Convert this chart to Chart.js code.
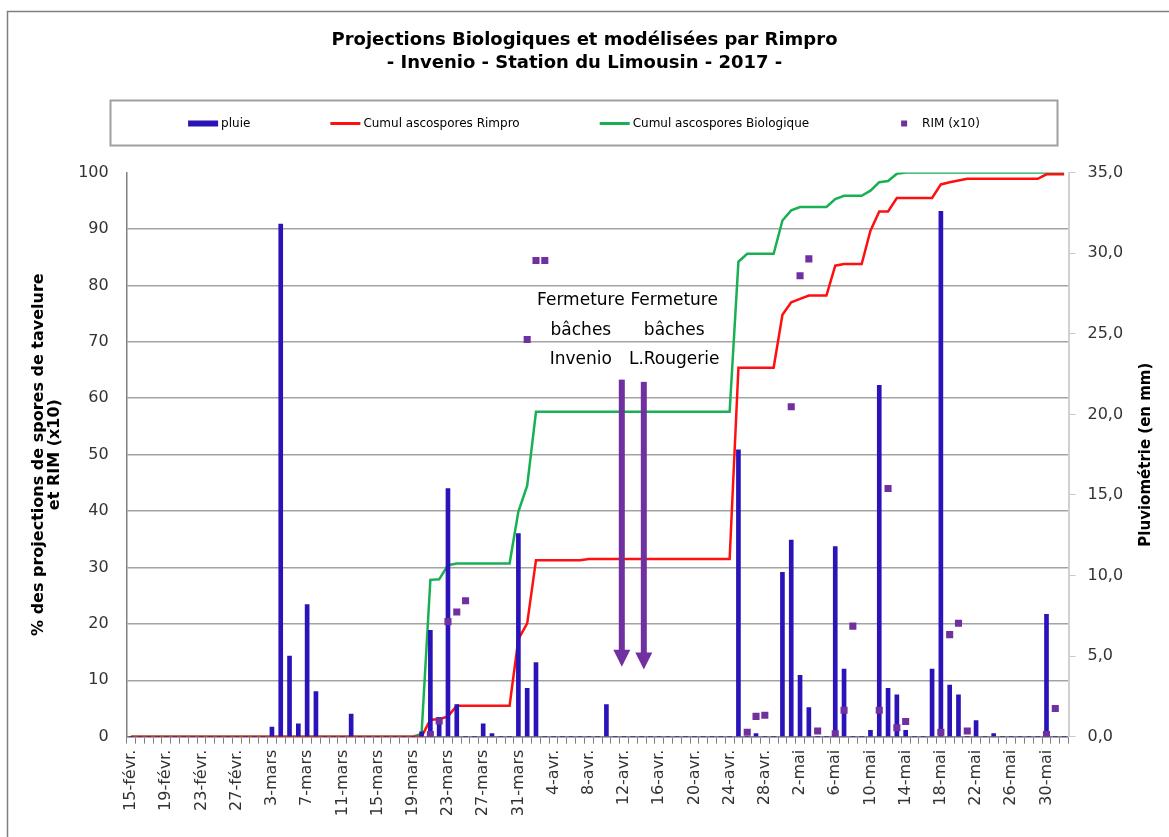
<!DOCTYPE html>
<html lang="fr">
<head>
<meta charset="UTF-8">
<title>Projections Biologiques et modélisées par Rimpro - Invenio 2017</title>
<script src="https://cdn.jsdelivr.net/npm/chart.js@4.4.0/dist/chart.umd.min.js"></script>
<style>
  html, body { margin: 0; padding: 0; background: #fff; }
  canvas { display: block; }
</style>
</head>
<body>
<canvas id="graphique" width="1169" height="837"></canvas>
<script>
// Jours du 15 févr. au 1 juin 2017
const categories = [
  '15-févr.','16-févr.','17-févr.','18-févr.','19-févr.','20-févr.','21-févr.','22-févr.','23-févr.','24-févr.','25-févr.','26-févr.','27-févr.','28-févr.',
  '1-mars','2-mars','3-mars','4-mars','5-mars','6-mars','7-mars','8-mars','9-mars','10-mars',
  '11-mars','12-mars','13-mars','14-mars','15-mars','16-mars','17-mars','18-mars','19-mars','20-mars',
  '21-mars','22-mars','23-mars','24-mars','25-mars','26-mars','27-mars','28-mars','29-mars','30-mars','31-mars',
  '1-avr.','2-avr.','3-avr.','4-avr.','5-avr.','6-avr.','7-avr.','8-avr.','9-avr.','10-avr.',
  '11-avr.','12-avr.','13-avr.','14-avr.','15-avr.','16-avr.','17-avr.','18-avr.','19-avr.','20-avr.',
  '21-avr.','22-avr.','23-avr.','24-avr.','25-avr.','26-avr.','27-avr.','28-avr.','29-avr.','30-avr.',
  '1-mai','2-mai','3-mai','4-mai','5-mai','6-mai','7-mai','8-mai','9-mai','10-mai',
  '11-mai','12-mai','13-mai','14-mai','15-mai','16-mai','17-mai','18-mai','19-mai','20-mai',
  '21-mai','22-mai','23-mai','24-mai','25-mai','26-mai','27-mai','28-mai','29-mai','30-mai','31-mai',
  '1-juin'
];

// pluie (mm), axe de droite
const pluie = [
  0,0,0,0,0,0,0,0,0,0,0,0,0,0,
  0,0,0.6,31.8,5.0,0.8,8.2,2.8,0,0,
  0,1.4,0,0,0,0,0,0,0,0.3,
  6.6,1.2,15.4,2.0,0,0,0.8,0.2,0,0,12.6,
  3.0,4.6,0,0,0,0,0,0,0,2.0,
  0,0,0,0,0,0,0,0,0,0,
  0,0,0,0,17.8,0,0.2,0,0,10.2,
  12.2,3.8,1.8,0,0,11.8,4.2,0,0,0.4,
  21.8,3.0,2.6,0.4,0,0,4.2,32.6,3.2,2.6,
  0,1.0,0,0.2,0,0,0,0,0,7.6,0,
  0
];

// Cumul ascospores Rimpro (%)
const cumulRimpro = [
  0,0,0,0,0,0,0,0,0,0,0,0,0,0,
  0,0,0,0,0,0,0,0,0,0,
  0,0,0,0,0,0,0,0,0,0,
  3.0,3.1,3.6,5.5,5.5,5.5,5.5,5.5,5.5,5.5,17.3,
  20.1,31.3,31.3,31.3,31.3,31.3,31.3,31.5,31.5,31.5,
  31.5,31.5,31.5,31.5,31.5,31.5,31.5,31.5,31.5,31.5,
  31.5,31.5,31.5,31.5,65.4,65.4,65.4,65.4,65.4,74.8,
  77.0,77.6,78.2,78.2,78.2,83.5,83.8,83.8,83.8,89.7,
  93.1,93.1,95.5,95.5,95.5,95.5,95.5,97.9,98.3,98.6,
  98.9,98.9,98.9,98.9,98.9,98.9,98.9,98.9,98.9,99.7,99.7,
  99.7
];

// Cumul ascospores Biologique (%)
const cumulBio = [
  0,0,0,0,0,0,0,0,0,0,0,0,0,0,
  0,0,0,0,0,0,0,0,0,0,
  0,0,0,0,0,0,0,0,0,0.5,
  27.8,27.9,30.4,30.7,30.7,30.7,30.7,30.7,30.7,30.7,39.9,
  44.5,57.6,57.6,57.6,57.6,57.6,57.6,57.6,57.6,57.6,
  57.6,57.6,57.6,57.6,57.6,57.6,57.6,57.6,57.6,57.6,
  57.6,57.6,57.6,57.6,84.2,85.6,85.6,85.6,85.6,91.5,
  93.3,93.9,93.9,93.9,93.9,95.3,95.9,95.9,95.9,96.8,
  98.3,98.5,99.8,100,100,100,100,100,100,100,
  100,100,100,100,100,100,100,100,100,100,100,
  100
];

// RIM (x10)
const rim = [
  null,null,null,null,null,null,null,null,null,null,null,null,null,null,
  null,null,null,null,null,null,null,null,null,null,
  null,null,null,null,null,null,null,null,null,null,
  0.4,2.8,20.4,22.1,24.1,null,null,null,null,null,null,
  70.4,84.4,84.4,null,null,null,null,null,null,null,
  null,null,null,null,null,null,null,null,null,null,
  null,null,null,null,null,0.8,3.6,3.8,null,null,
  58.5,81.7,84.7,1.0,null,0.5,4.7,19.6,null,null,
  4.7,44.0,1.6,2.7,null,null,null,0.8,18.1,20.1,
  1.0,null,null,null,null,null,null,null,null,0.4,5.0,
  null
];

// fermeture des bâches (position en jour / % de l'axe gauche)
const fermetures = [
  { x: 55.75, haut: 63.3, pointe: 12.4, xTexte: 51.1, texte: ['Fermeture', 'bâches', 'Invenio'] },
  { x: 58.25, haut: 62.9, pointe: 11.9, xTexte: 61.7, texte: ['Fermeture', 'bâches', 'L.Rougerie'] }
];
const lignesTexteY = [77.3, 72.0, 66.8];

const police = '"DejaVu Sans", "Liberation Sans", sans-serif';

const decor = {
  id: 'decor',
  beforeDraw(chart) {
    const ctx = chart.ctx;
    ctx.save();
    ctx.fillStyle = '#fff';
    ctx.fillRect(0, 0, chart.width, chart.height);
    ctx.strokeStyle = '#7f7f7f';
    ctx.lineWidth = 1.5;
    ctx.beginPath();
    ctx.moveTo(7.5, chart.height);
    ctx.lineTo(7.5, 11.5);
    ctx.lineTo(chart.width, 11.5);
    ctx.stroke();
    ctx.restore();
  },
  afterDatasetsDraw(chart) {
    const ctx = chart.ctx, sx = chart.scales.x, sy = chart.scales.y;
    ctx.save();
    fermetures.forEach(f => {
      const px = sx.getPixelForValue(f.x);
      const yHaut = sy.getPixelForValue(f.haut);
      const yPointe = sy.getPixelForValue(f.pointe);
      ctx.fillStyle = '#7030a0';
      ctx.fillRect(px - 3, yHaut, 6, yPointe - 16 - yHaut);
      ctx.beginPath();
      ctx.moveTo(px - 8.5, yPointe - 17);
      ctx.lineTo(px + 8.5, yPointe - 17);
      ctx.lineTo(px, yPointe);
      ctx.closePath();
      ctx.fill();
      ctx.fillStyle = '#000';
      ctx.font = '17px ' + police;
      ctx.textAlign = 'center';
      ctx.textBaseline = 'middle';
      f.texte.forEach((t, i) => {
        ctx.fillText(t, sx.getPixelForValue(f.xTexte), sy.getPixelForValue(lignesTexteY[i]));
      });
    });
    ctx.restore();
  },
  afterDraw(chart) {
    const ctx = chart.ctx;
    ctx.save();

    // légende encadrée
    ctx.strokeStyle = '#a0a0a0';
    ctx.lineWidth = 2;
    ctx.strokeRect(110.5, 100.5, 947, 45);
    ctx.font = '12px ' + police;
    ctx.textBaseline = 'middle';
    ctx.textAlign = 'left';
    const sets = chart.data.datasets;
    const larg = sets.map(d => 33 + ctx.measureText(d.label).width);
    const total = larg.reduce((a, b) => a + b, 0) + 80 * (sets.length - 1);
    let x = 584 - total / 2;
    const cy = 123.5;
    sets.forEach((d, i) => {
      if (d.type === 'bar') {
        ctx.fillStyle = d.backgroundColor;
        ctx.fillRect(x, cy - 3, 30, 6);
      } else if (d.showLine === false) {
        ctx.fillStyle = d.backgroundColor;
        ctx.fillRect(x + 12, cy - 3, 6, 6);
      } else {
        ctx.strokeStyle = d.borderColor;
        ctx.lineWidth = 3;
        ctx.beginPath();
        ctx.moveTo(x, cy);
        ctx.lineTo(x + 30, cy);
        ctx.stroke();
      }
      ctx.fillStyle = '#000';
      ctx.fillText(d.label, x + 33, cy);
      x += larg[i] + 80;
    });

    // titre de l'axe de droite
    const a = chart.chartArea;
    ctx.translate(1146.5, (a.top + a.bottom) / 2);
    ctx.rotate(-Math.PI / 2);
    ctx.font = 'bold 15px ' + police;
    ctx.textAlign = 'center';
    ctx.fillStyle = '#000';
    ctx.fillText('Pluviométrie (en mm)', 0, 0);
    ctx.restore();
  }
};

const ctx = document.getElementById('graphique').getContext('2d');
new Chart(ctx, {
  type: 'bar',
  data: {
    labels: categories,
    datasets: [
      {
        type: 'bar',
        label: 'pluie',
        data: pluie,
        yAxisID: 'y2',
        backgroundColor: '#2a13b8',
        barThickness: 4,
        order: 2
      },
      {
        type: 'line',
        label: 'Cumul ascospores Rimpro',
        data: cumulRimpro,
        yAxisID: 'y',
        borderColor: '#ff1010',
        backgroundColor: '#ff1010',
        borderWidth: 2.5,
        pointRadius: 0,
        tension: 0,
        order: 3
      },
      {
        type: 'line',
        label: 'Cumul ascospores Biologique',
        data: cumulBio,
        yAxisID: 'y',
        borderColor: '#19b054',
        backgroundColor: '#19b054',
        borderWidth: 2.5,
        pointRadius: 0,
        tension: 0,
        order: 3
      },
      {
        type: 'line',
        label: 'RIM (x10)',
        data: rim,
        yAxisID: 'y',
        showLine: false,
        pointStyle: 'rect',
        pointRadius: 5,
        backgroundColor: '#7030a0',
        borderColor: '#7030a0',
        borderWidth: 0,
        order: 1
      }
    ]
  },
  options: {
    responsive: false,
    animation: false,
    devicePixelRatio: 1,
    layout: { padding: 0 },
    plugins: {
      legend: { display: false },
      tooltip: { enabled: false },
      title: {
        display: true,
        text: ['Projections Biologiques et modélisées par Rimpro', '- Invenio - Station du Limousin - 2017 -'],
        color: '#000',
        font: { family: police, size: 18, weight: 'bold', lineHeight: 1.28 },
        padding: { top: 28.5, bottom: 98 }
      }
    },
    scales: {
      x: {
        offset: true,
        grid: { offset: true, drawOnChartArea: false, drawTicks: true, tickLength: 7, color: '#808080' },
        border: { color: '#808080', width: 1.5 },
        ticks: {
          autoSkip: false,
          minRotation: 90,
          maxRotation: 90,
          padding: 6,
          color: '#333',
          font: { family: police, size: 16 },
          callback: function (value, index) {
            return index % 4 === 0 ? this.getLabelForValue(value) : '';
          }
        },
        afterFit: s => { s.height = 100.3; }
      },
      y: {
        position: 'left',
        min: 0,
        max: 100,
        ticks: { stepSize: 10, padding: 18, color: '#333', font: { family: police, size: 16 } },
        grid: {
          drawTicks: false,
          lineWidth: 1.5,
          color: c => c.tick && c.tick.value === 100 ? 'rgba(0,0,0,0)' : '#a3a3a3'
        },
        border: { color: '#808080', width: 1.5 },
        title: {
          display: true,
          text: ['% des projections de spores de tavelure', 'et RIM (x10)'],
          color: '#000',
          font: { family: police, size: 16, weight: 'bold', lineHeight: 1.05 },
          padding: { top: 30, bottom: 0 }
        },
        afterFit: s => { s.width = 126.7; }
      },
      y2: {
        position: 'right',
        min: 0,
        max: 35,
        ticks: {
          stepSize: 5,
          padding: 12,
          color: '#333',
          font: { family: police, size: 16 },
          callback: v => v.toFixed(1).replace('.', ',')
        },
        grid: { drawOnChartArea: false, tickLength: 7, color: '#c8c8c8' },
        border: { color: '#d0d0d0', width: 2 },
        afterFit: s => { s.width = 100.5; }
      }
    }
  },
  plugins: [decor]
});
</script>
</body>
</html>
